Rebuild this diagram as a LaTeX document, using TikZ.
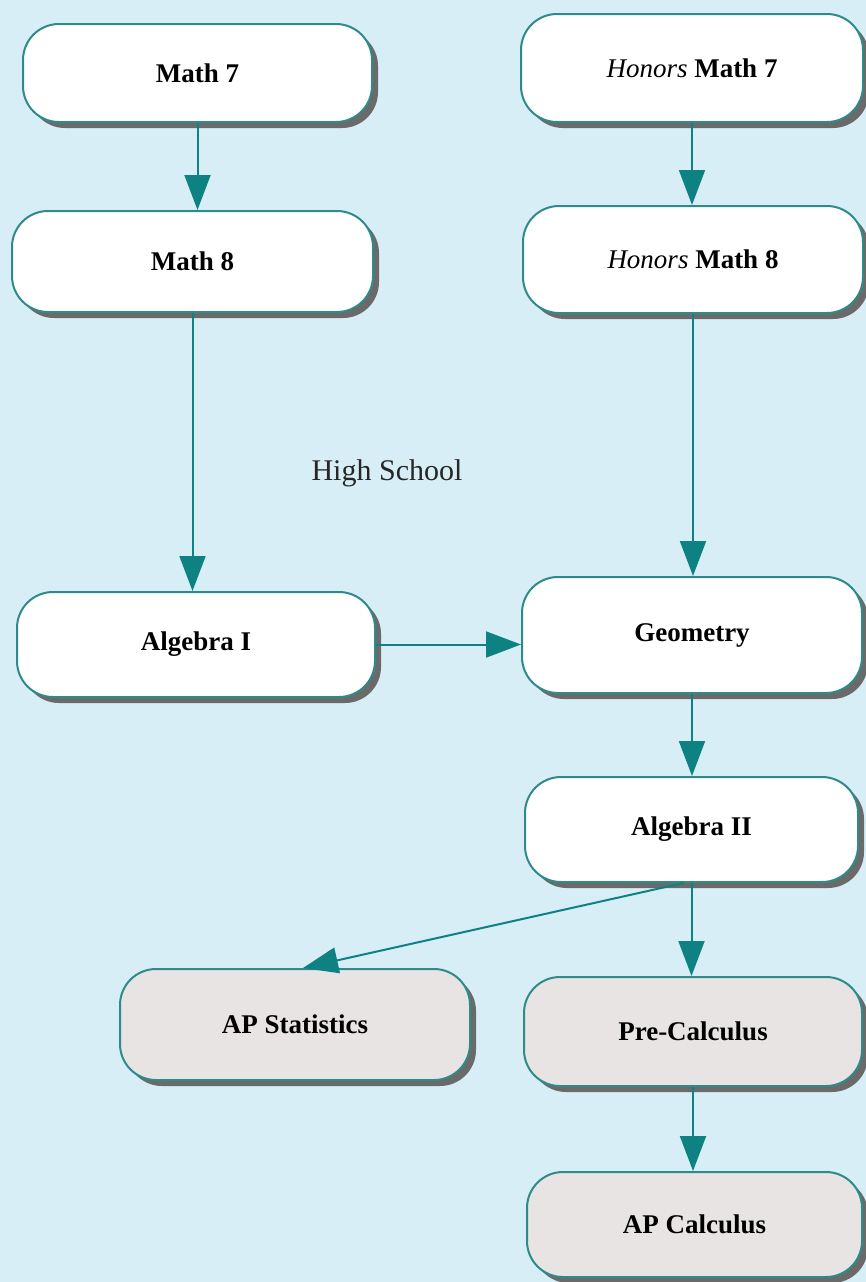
\documentclass[tikz,border=0pt]{standalone}
\usepackage{fontspec}
\setmainfont{Liberation Serif}
\usetikzlibrary{arrows.meta,shadows,calc}
\definecolor{bgblue}{HTML}{D8EEF6}
\definecolor{tealline}{HTML}{2F8A8A}
\definecolor{tealarrow}{HTML}{0E8282}
\definecolor{grayfill}{HTML}{E8E4E4}
\definecolor{shadowgray}{HTML}{6A6A6A}
\tikzset{
  course/.style={draw=tealline, line width=2pt, fill=white, rounded corners=36pt,
    minimum width=#1, inner sep=0pt,
    drop shadow={shadow xshift=6pt, shadow yshift=-6pt, fill=shadowgray, opacity=1},
    font=\fontsize{27}{32}\selectfont\bfseries},
  apcourse/.style={course=#1, fill=grayfill},
  flow/.style={draw=tealarrow, line width=2pt, -{Triangle[length=35pt,width=26pt]}}
}
\begin{document}
\begin{tikzpicture}[x=1pt,y=-1pt]
\fill[bgblue] (0,0) rectangle (866,1282);
\useasboundingbox (0,0) rectangle (866,1282);

\node[course=349pt, minimum height=98pt] (m7) at (197.5,73) {Math 7};
\node[course=361pt, minimum height=101pt] (m8) at (192.5,261.5) {Math 8};
\node[course=342pt, minimum height=108pt] (hm7) at (692,68) {\textit{\mdseries Honors} Math 7};
\node[course=340pt, minimum height=107pt] (hm8) at (693,259.5) {\textit{\mdseries Honors} Math 8};
\node[course=358pt, minimum height=105pt] (alg1) at (196,644.5) {Algebra I};
\node[course=340pt, minimum height=116pt] (geo) at (692,635) {Geometry};
\node[course=333pt, minimum height=105pt] (alg2) at (691.5,829.5) {Algebra II};
\node[apcourse=350pt, minimum height=111pt] (aps) at (295,1024.5) {AP Statistics};
\node[apcourse=338pt, minimum height=109pt] (pre) at (693,1031.5) {Pre-Calculus};
\node[apcourse=335pt, minimum height=105pt] (apc) at (694.5,1224.5) {AP Calculus};

\node[font=\fontsize{30}{36}\selectfont, text=black!85] (hs) at (387,473) {High School};

\draw[flow] (m7.south) -- (m7.south |- m8.north);
\draw[flow] (m8.south) -- (m8.south |- alg1.north);
\draw[flow] (hm7.south) -- (hm7.south |- hm8.north);
\draw[flow] (hm8.south) -- (hm8.south |- geo.north);
\draw[flow] (alg1.east) -- (alg1.east -| geo.west);
\draw[flow] (geo.south) -- (geo.south |- alg2.north);
\draw[flow] (alg2.south) -- (alg2.south |- pre.north);
\coordinate (diagstart) at ($(alg2.south)+(-8,0)$);
\coordinate (diagend) at ($(aps.north)+(8,0)$);
\draw[flow] (diagstart) -- (diagend);
\draw[flow] (pre.south) -- (pre.south |- apc.north);
\end{tikzpicture}
\end{document}
